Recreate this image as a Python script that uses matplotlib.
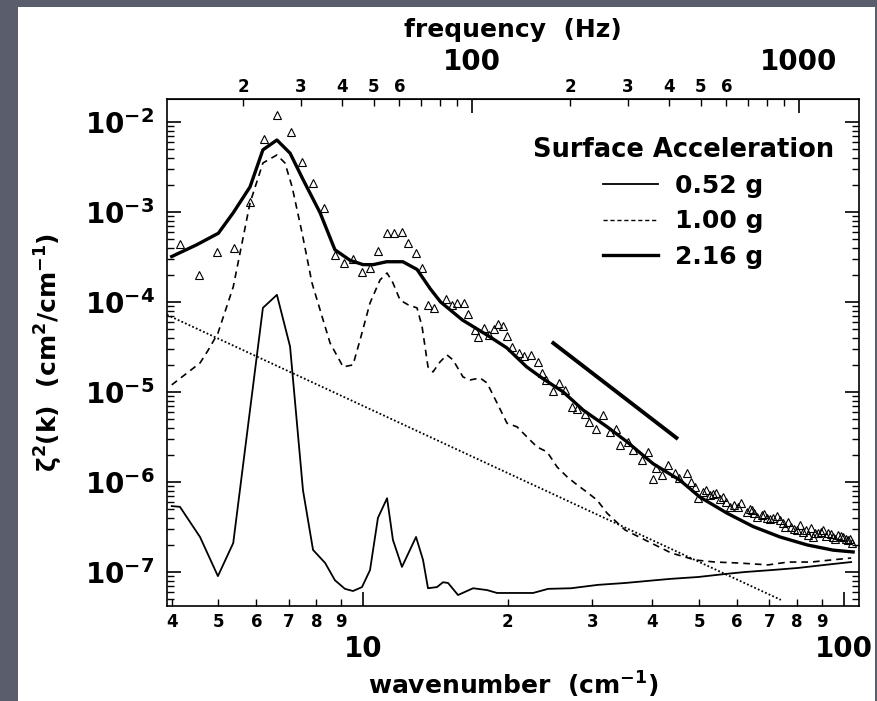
import numpy as np
import matplotlib
matplotlib.use("Agg")
import matplotlib.pyplot as plt
from matplotlib.lines import Line2D
from matplotlib.patches import Rectangle
from matplotlib.ticker import (FixedLocator, FixedFormatter, NullFormatter,
                               LogLocator, LogFormatterMathtext)

plt.rcParams['font.family'] = ['DejaVu Sans']
plt.rcParams['font.weight'] = 'bold'
plt.rcParams['mathtext.fontset'] = 'custom'
plt.rcParams['mathtext.rm'] = 'DejaVu Sans:bold'
plt.rcParams['mathtext.bf'] = 'DejaVu Sans:bold'
plt.rcParams['mathtext.it'] = 'DejaVu Sans:italic'
plt.rcParams['mathtext.default'] = 'rm'

# ---- data (wavenumber in cm^-1, spectrum in cm^2/cm^-1) ----
k_052 = [4.0, 4.16, 4.58, 4.99, 5.37, 6.19, 6.62, 7.05, 7.50, 7.87, 8.34, 8.74,
         9.17, 9.53, 9.95, 10.34, 10.74, 11.22, 11.54, 12.05, 12.89, 13.33, 13.65,
         14.25, 14.67, 15.03, 15.76, 16.94, 18.11, 19.0, 20.51, 22.58, 24.27, 27.08,
         30.83, 35.08, 40.5, 43.73, 49.78, 56.6, 62.3, 70.6, 80.4, 91.4, 103.6]
s_052 = [5.4e-7, 5.3e-7, 2.45e-7, 9.0e-8, 2.1e-7, 8.6e-5, 1.2e-4, 3.2e-5, 8.1e-7,
         1.76e-7, 1.26e-7, 8.1e-8, 6.5e-8, 6.15e-8, 6.8e-8, 1.05e-7, 4.0e-7, 6.6e-7,
         2.27e-7, 1.14e-7, 2.45e-7, 1.36e-7, 6.6e-8, 6.8e-8, 7.7e-8, 7.55e-8, 5.55e-8,
         6.6e-8, 6.3e-8, 5.85e-8, 5.85e-8, 5.85e-8, 6.5e-8, 6.6e-8, 7.2e-8, 7.55e-8,
         8.1e-8, 8.4e-8, 8.8e-8, 9.5e-8, 1.0e-7, 1.05e-7, 1.11e-7, 1.2e-7, 1.29e-7]

k_100 = [4.0, 4.58, 4.76, 4.99, 5.37, 5.82, 6.19, 6.62, 6.88, 7.12, 7.47, 7.83,
         8.26, 8.54, 9.09, 9.53, 9.86, 10.34, 10.85, 11.22, 11.54, 11.94, 12.41,
         12.95, 13.27, 13.65, 13.98, 14.46, 14.95, 15.39, 16.14, 16.70, 17.52, 18.11,
         19.0, 19.93, 20.91, 21.94, 23.01, 24.15, 25.33, 26.58, 27.88, 29.24, 30.68,
         32.19, 35.08, 38.61, 43.73, 49.06, 54.0, 60.3, 69.6, 76.6, 85.5, 94.1, 103.6]
s_100 = [1.2e-5, 2.1e-5, 2.9e-5, 4.5e-5, 1.47e-4, 1.26e-3, 3.5e-3, 4.3e-3, 3.5e-3,
         1.9e-3, 5.8e-4, 1.63e-4, 6.3e-5, 3.5e-5, 1.9e-5, 2.0e-5, 3.8e-5, 9.75e-5,
         1.76e-4, 2.1e-4, 1.63e-4, 1.05e-4, 9.3e-5, 8.6e-5, 5.3e-5, 1.9e-5, 1.67e-5,
         2.16e-5, 2.58e-5, 2.27e-5, 1.47e-5, 1.36e-5, 1.43e-5, 1.26e-5, 7.55e-6,
         4.5e-6, 4.1e-6, 3.16e-6, 2.45e-6, 2.16e-6, 1.47e-6, 1.14e-6, 9.3e-7, 7.7e-7,
         6.3e-7, 4.5e-7, 2.93e-7, 2.27e-7, 1.63e-7, 1.36e-7, 1.29e-7, 1.26e-7,
         1.2e-7, 1.29e-7, 1.29e-7, 1.36e-7, 1.43e-7]

k_216 = [4.0, 4.5, 5.0, 5.37, 5.82, 6.19, 6.62, 7.05, 7.5, 8.14, 8.74, 9.4, 10.0,
         10.5, 11.2, 12.1, 12.95, 13.8, 14.5, 16.1, 18.1, 19.9, 21.9, 23.7, 26.1,
         28.7, 32.2, 35.4, 40.1, 45.6, 50.2, 57.2, 64.8, 73.7, 83.9, 95.0, 104.6]
s_216 = [3.2e-4, 4.3e-4, 5.8e-4, 9.8e-4, 1.9e-3, 4.9e-3, 6.3e-3, 4.5e-3, 2.3e-3,
         9.8e-4, 3.8e-4, 2.9e-4, 2.6e-4, 2.6e-4, 2.8e-4, 2.8e-4, 2.3e-4, 1.4e-4,
         1.0e-4, 6.3e-5, 4.3e-5, 3.1e-5, 1.9e-5, 1.4e-5, 1.0e-5, 6.3e-6, 4.1e-6,
         2.8e-6, 1.6e-6, 1.05e-6, 6.8e-7, 4.5e-7, 3.2e-7, 2.45e-7, 2.0e-7, 1.75e-7,
         1.67e-7]

k_pts = [4.16, 4.56, 4.97, 5.39, 5.82, 6.22, 6.62, 7.08, 7.47, 7.87, 8.30, 8.74,
         9.13, 9.53, 9.95, 10.34, 10.74, 11.22, 11.60, 12.05, 12.41, 12.89, 13.27,
         13.65, 14.05, 14.88, 15.31, 15.69, 16.23, 16.54, 17.10, 17.35, 17.85, 18.29,
         18.73, 19.09, 19.55, 19.93, 20.42, 21.11, 21.63, 22.36, 23.12, 23.57, 24.03,
         24.85, 25.56, 26.31, 27.22, 27.88, 28.97, 29.53, 30.53, 31.57, 32.64, 33.60,
         34.25, 35.59, 36.46, 38.06, 39.17, 40.12, 40.70, 41.88, 43.11, 44.58, 47.21,
         49.06, 49.77, 50.98, 52.71, 54.25, 56.10, 58.01, 60.27, 61.14, 62.92, 64.46,
         66.0, 67.6, 69.2, 71.3, 73.7, 75.5, 77.7, 80.0, 82.3, 84.3, 86.3, 88.4,
         90.6, 92.8, 95.0, 97.3, 99.7, 102.1, 104.1,
         # second, denser layer of points at high wavenumber
         45.5, 48.2, 51.6, 53.5, 55.2, 57.0, 59.1, 63.7, 65.2, 68.4, 70.2, 72.5,
         74.6, 76.6, 78.8, 81.1, 83.3, 85.3, 87.3, 89.5, 91.7, 93.9, 96.1, 98.5,
         100.9, 103.0]
s_pts = [4.4e-4, 2.0e-4, 3.6e-4, 4.0e-4, 1.29e-3, 6.5e-3, 1.2e-2, 7.7e-3, 3.6e-3,
         2.1e-3, 1.11e-3, 3.3e-4, 2.7e-4, 3.0e-4, 2.16e-4, 2.4e-4, 3.7e-4, 5.8e-4,
         5.8e-4, 6.0e-4, 4.5e-4, 3.5e-4, 2.4e-4, 9.3e-5, 8.6e-5, 1.08e-4, 9.3e-5,
         9.75e-5, 9.75e-5, 7.4e-5, 4.9e-5, 4.1e-5, 5.1e-5, 4.3e-5, 5.0e-5, 5.7e-5,
         5.4e-5, 4.2e-5, 3.2e-5, 2.7e-5, 2.5e-5, 2.6e-5, 2.16e-5, 1.63e-5, 1.36e-5,
         1.03e-5, 1.26e-5, 1.05e-5, 6.8e-6, 6.5e-6, 5.7e-6, 4.6e-6, 3.9e-6, 5.5e-6,
         3.6e-6, 3.9e-6, 2.6e-6, 2.8e-6, 2.27e-6, 1.76e-6, 2.16e-6, 1.08e-6, 1.43e-6,
         1.2e-6, 1.55e-6, 1.26e-6, 1.26e-6, 8.8e-7, 6.6e-7, 7.7e-7, 7.2e-7, 7.55e-7,
         6.8e-7, 5.3e-7, 5.3e-7, 5.8e-7, 4.6e-7, 4.9e-7, 4.1e-7, 4.3e-7, 4.0e-7,
         4.0e-7, 3.8e-7, 3.2e-7, 3.2e-7, 2.9e-7, 2.8e-7, 2.6e-7, 2.45e-7, 2.7e-7,
         2.9e-7, 2.7e-7, 2.45e-7, 2.6e-7, 2.45e-7, 2.27e-7, 2.1e-7,
         1.12e-6, 1.0e-6, 8.2e-7, 7.4e-7, 6.4e-7, 6.0e-7, 5.6e-7, 5.0e-7, 4.5e-7,
         4.4e-7, 3.9e-7, 4.2e-7, 3.5e-7, 3.6e-7, 3.0e-7, 3.3e-7, 2.9e-7, 3.1e-7,
         2.7e-7, 2.8e-7, 2.5e-7, 2.65e-7, 2.3e-7, 2.5e-7, 2.3e-7, 2.35e-7]

# dotted reference line and the thick slope line
k_dot = [3.91, 74.0]
s_dot = [7.2e-5, 4.9e-8]
k_slope = [24.7, 45.2]
s_slope = [3.6e-5, 3.0e-6]

# top axis calibration: frequency (Hz) ~ F0 * k**P
F0 = 1.575
P = 1.4697

x_minor = [4, 5, 6, 7, 8, 9, 20, 30, 40, 50, 60, 70, 80, 90]
x_minor_labels = ['4', '5', '6', '7', '8', '9', '2', '3', '4', '5', '6', '7', '8', '9']
x_major = [10, 100]
x_major_labels = ['10', '100']
f_minor = [20, 30, 40, 50, 60, 70, 80, 90, 200, 300, 400, 500, 600, 700, 800, 900]
f_minor_labels = ['2', '3', '4', '5', '6', '', '', '', '2', '3', '4', '5', '6', '', '', '']
f_major = [100, 1000]
f_major_labels = ['100', '1000']
y_major = [1e-7, 1e-6, 1e-5, 1e-4, 1e-3, 1e-2]

legend_labels = ['0.52 g', '1.00 g', '2.16 g']

# ---- figure ----
fig = plt.figure(figsize=(8.78, 7.01), dpi=100, facecolor='#5a5e6c')
fig.patches.append(Rectangle((0.0205, 0.0), 0.976, 0.990, transform=fig.transFigure,
                             facecolor='white', edgecolor='none', zorder=-5))
ax = fig.add_axes([0.1902, 0.1355, 0.7882, 0.7233])
ax.set_zorder(2)
ax.set_xscale('log')
ax.set_yscale('log')
ax.set_xlim(3.91, 107.6)
ax.set_ylim(4.19e-8, 1.8e-2)

ax.plot(k_dot, s_dot, color='black', lw=1.3, dashes=(1.0, 1.2))
ax.plot(k_slope, s_slope, color='black', lw=2.8, solid_capstyle='butt')
ax.plot(k_052, s_052, color='black', lw=1.3)
ax.plot(k_100, s_100, color='black', lw=1.2, dashes=(4, 3))
ax.plot(k_216, s_216, color='black', lw=2.4)
ax.plot(k_pts, s_pts, linestyle='none', marker='^', ms=6, mfc='none',
        mec='black', mew=0.8)

for sp in ax.spines.values():
    sp.set_linewidth(1.2)

# bottom axis
ax.xaxis.set_major_locator(FixedLocator(x_major))
ax.xaxis.set_major_formatter(FixedFormatter(x_major_labels))
ax.xaxis.set_minor_locator(FixedLocator(x_minor))
ax.xaxis.set_minor_formatter(FixedFormatter(x_minor_labels))
ax.tick_params(axis='x', which='major', direction='in', length=10, width=1.2,
               pad=21, labelsize=20, top=False)
ax.tick_params(axis='x', which='minor', direction='in', length=5, width=1.0,
               pad=5, labelsize=12, top=False)

# left / right axis
ax.yaxis.set_major_locator(FixedLocator(y_major))
ax.yaxis.set_major_formatter(LogFormatterMathtext())
ax.yaxis.set_minor_locator(LogLocator(base=10, subs=np.arange(2, 10), numticks=20))
ax.yaxis.set_minor_formatter(NullFormatter())
ax.tick_params(axis='y', which='major', direction='in', length=10, width=1.2,
               labelsize=20, pad=9, left=True, right=True)
ax.tick_params(axis='y', which='minor', direction='in', length=5, width=1.0,
               left=True, right=True)

# top frequency axis
def k_to_f(k):
    return F0 * np.power(np.maximum(np.asarray(k, dtype=float), 1e-12), P)

def f_to_k(f):
    return np.power(np.maximum(np.asarray(f, dtype=float), 1e-12) / F0, 1.0 / P)

secax = ax.secondary_xaxis('top', functions=(k_to_f, f_to_k))
secax.xaxis.set_major_locator(FixedLocator(f_major))
secax.xaxis.set_major_formatter(FixedFormatter(f_major_labels))
secax.xaxis.set_minor_locator(FixedLocator(f_minor))
secax.xaxis.set_minor_formatter(FixedFormatter(f_minor_labels))
secax.tick_params(axis='x', which='major', direction='in', length=10, width=1.2,
                  pad=16.5, labelsize=20)
secax.tick_params(axis='x', which='minor', direction='in', length=5, width=1.0,
                  pad=2, labelsize=12)
secax.set_xlabel('frequency  (Hz)', fontsize=18, fontweight='bold', labelpad=8)

ax.set_xlabel(r'wavenumber  (cm$^{-1}$)', fontsize=18, fontweight='bold', labelpad=5)
ax.set_ylabel(r'$\zeta^{2}$(k)  (cm$^{2}$/cm$^{-1}$)', fontsize=18,
              fontweight='bold', labelpad=14)

handles = [Line2D([], [], color='black', lw=1.3),
           Line2D([], [], color='black', lw=1.0, dashes=(3, 2)),
           Line2D([], [], color='black', lw=2.4)]
leg = ax.legend(handles, legend_labels, title='Surface Acceleration', loc='upper right',
                bbox_to_anchor=(0.985, 0.955), frameon=False, fontsize=18,
                title_fontproperties={'size': 18.5, 'weight': 'bold'},
                handlelength=2.2, handletextpad=0.7, labelspacing=0.45, borderpad=0.1)

fig.savefig('out.png', dpi=100, facecolor=fig.get_facecolor())
